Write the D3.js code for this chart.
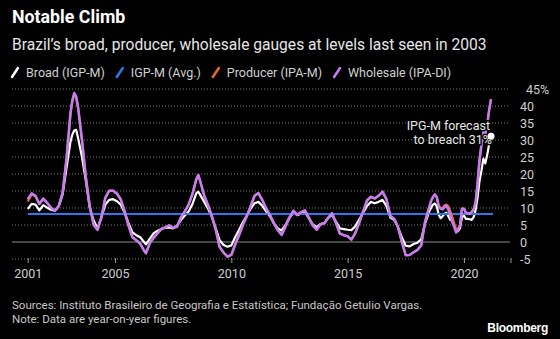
<!DOCTYPE html>
<html>
<head>
<meta charset="utf-8">
<script src="https://cdnjs.cloudflare.com/ajax/libs/d3/7.8.5/d3.min.js"></script>
<style>
body{margin:0;background:#000;}
svg{display:block;font-family:Roboto,"Noto Sans",sans-serif;}
</style>
</head>
<body>
<svg id="chart" width="560" height="339"></svg>
<script>
// monthly points (irregular spacing, denser where it moves fast)
var months = [
  "2001-04","2001-06","2001-08","2001-10","2001-12",
  "2002-02","2002-04","2002-06","2002-08","2002-10","2002-12",
  "2003-02","2003-03","2003-04","2003-05","2003-06","2003-08","2003-10","2003-12",
  "2004-02","2004-04","2004-06","2004-08","2004-10","2004-12",
  "2005-02","2005-04","2005-06","2005-08","2005-10","2005-12",
  "2006-02","2006-04","2006-05","2006-07","2006-09","2006-11",
  "2007-01","2007-03","2007-05","2007-07","2007-09","2007-11",
  "2008-01","2008-03","2008-05","2008-07","2008-08","2008-09","2008-11",
  "2009-01","2009-03","2009-05","2009-07","2009-09","2009-11",
  "2010-01","2010-03","2010-05","2010-07","2010-09","2010-11",
  "2011-01","2011-03","2011-05","2011-07","2011-09","2011-11",
  "2012-01","2012-03","2012-05","2012-07","2012-09","2012-11",
  "2013-01","2013-03","2013-05","2013-07","2013-09","2013-11",
  "2014-01","2014-03","2014-05","2014-07","2014-09","2014-11",
  "2015-01","2015-03","2015-05","2015-07","2015-09","2015-11",
  "2016-01","2016-03","2016-05","2016-07","2016-09","2016-11",
  "2017-01","2017-03","2017-05","2017-07","2017-09","2017-11",
  "2018-01","2018-03","2018-05","2018-07","2018-08","2018-09","2018-10","2018-11","2018-12",
  "2019-01","2019-02","2019-03","2019-04","2019-05","2019-06","2019-07","2019-08","2019-09","2019-10","2019-11","2019-12",
  "2020-01","2020-02","2020-03","2020-04","2020-05","2020-06","2020-07","2020-08","2020-09","2020-10","2020-11","2020-12",
  "2021-01","2021-02","2021-03"
];

// Broad (IGP-M)
var broad = [
  9.7, 11.2, 11.0, 9.3, 10.8,
  10.1, 9.5, 9.2, 10.5, 14.0, 21.8,
  29.5, 31.5, 32.8, 33.0, 30.5, 25.0, 18.0, 10.0,
  6.3, 4.0, 7.2, 11.0, 12.4, 12.6,
  12.0, 11.0, 8.6, 5.5, 2.8, 2.0,
  1.4, 0.0, -0.7, 1.0, 2.6, 3.3,
  3.8, 4.2, 4.3, 4.0, 4.8, 6.5,
  7.8, 9.0, 11.2, 14.4, 14.8, 13.8, 11.8,
  9.8, 7.4, 4.0, 0.5, -0.9, -1.4,
  -1.0, 1.4, 3.5, 5.8, 7.8, 9.8,
  11.4, 11.8, 10.7, 9.0, 7.5, 5.5,
  4.0, 3.4, 5.0, 7.1, 8.6, 7.9,
  8.4, 8.8, 7.0, 5.2, 4.4, 5.3,
  5.6, 7.1, 8.0, 6.0, 4.0, 3.8,
  3.6, 3.5, 4.6, 6.6, 8.6, 10.6,
  11.8, 11.4, 11.8, 12.4, 10.6, 7.2,
  6.5, 4.4, 1.4, -1.1, -1.3, -0.6,
  -0.2, 0.8, 5.5, 8.8, 10.0, 11.0, 11.3, 10.5, 8.0,
  7.0, 7.6, 8.3, 8.6, 7.6, 6.5, 6.4, 5.0, 3.4, 3.2, 4.1, 7.3,
  7.8, 6.8, 6.8, 6.7, 6.5, 7.3, 9.3, 13.0, 17.9, 20.9, 24.5, 23.1,
  25.7, 28.9, 31.1
];

// Producer (IPA-M)
var producer = [
  11.9, 14.0, 13.4, 11.2, 12.7,
  11.5, 10.1, 9.2, 10.6, 14.5, 24.5,
  37.5, 41.3, 43.5, 42.6, 39.5, 30.0, 19.0, 10.5,
  5.0, 3.6, 7.3, 13.0, 15.1, 15.1,
  14.2, 12.5, 9.0, 4.8, 1.4, 0.5,
  -0.5, -2.5, -3.3, -0.3, 1.3, 2.6,
  3.9, 4.3, 4.9, 4.2, 4.5, 7.2,
  9.0, 11.0, 14.2, 18.5, 19.7, 17.8, 13.6,
  10.8, 7.6, 3.6, -1.5, -3.1, -4.3,
  -3.8, -0.8, 2.0, 5.0, 7.6, 10.6,
  13.6, 14.4, 12.4, 9.9, 7.9, 5.4,
  3.5, 2.1, 4.6, 7.2, 9.2, 8.0,
  8.8, 9.3, 7.2, 4.9, 3.6, 5.2,
  5.5, 7.1, 8.5, 5.6, 2.5, 2.0,
  1.7, 0.7, 2.6, 5.6, 9.0, 12.2,
  13.3, 12.8, 13.6, 14.8, 12.6, 7.7,
  6.8, 4.4, 0.0, -3.9, -3.8, -3.0,
  -2.3, -1.0, 6.0, 10.0, 12.0, 13.2, 14.0, 13.2, 10.5,
  10.0, 10.0, 10.8, 11.0, 10.5, 9.0, 7.5, 5.5, 3.5, 3.8, 5.0, 9.8,
  9.8, 8.6, 8.5, 8.3, 8.8, 9.6, 11.5, 17.0, 24.0, 28.5, 32.5, 31.5,
  34.5, 39.0, 42.0
];

// Wholesale (IPA-DI)
var wholesale = [
  12.6, 14.3, 13.6, 11.2, 12.8,
  11.5, 10.1, 9.2, 10.6, 14.5, 24.5,
  38.0, 41.5, 43.8, 42.8, 39.5, 30.0, 19.0, 10.5,
  5.0, 3.6, 7.3, 13.0, 15.1, 15.1,
  14.2, 12.5, 9.0, 4.8, 1.4, 0.5,
  -0.5, -2.5, -3.3, -0.3, 1.3, 2.6,
  3.9, 4.3, 4.9, 4.2, 4.5, 7.2,
  9.0, 11.0, 14.2, 18.5, 19.7, 17.8, 13.6,
  10.8, 7.6, 3.6, -1.5, -3.1, -4.3,
  -3.8, -0.8, 2.0, 5.0, 7.6, 10.6,
  13.6, 14.4, 12.4, 9.9, 7.9, 5.4,
  3.5, 2.1, 4.6, 7.2, 9.2, 8.0,
  8.8, 9.3, 7.2, 4.9, 3.6, 5.2,
  5.5, 7.1, 8.5, 5.6, 2.5, 2.0,
  1.7, 0.7, 2.6, 5.6, 9.0, 12.2,
  13.3, 12.8, 13.6, 14.8, 12.6, 7.7,
  6.8, 4.4, 0.0, -3.9, -3.8, -3.0,
  -2.3, -1.0, 6.0, 10.0, 12.0, 13.2, 14.0, 13.2, 10.5,
  9.8, 9.6, 10.3, 10.6, 9.6, 7.6, 6.0, 4.4, 2.8, 3.5, 4.8, 9.8,
  9.8, 8.6, 8.5, 8.3, 8.8, 9.6, 11.5, 17.0, 24.0, 28.5, 32.5, 31.5,
  34.5, 39.0, 42.0
];

var igpmAvg = 8.2;          // IGP-M average over the period
var forecast = 31.1;        // last Broad point, marked with a dot

var yTicks = [-5, 0, 5, 10, 15, 20, 25, 30, 35, 40, 45];
var xTickYears = [2005, 2010, 2015, 2020];

var legendNames = ["Broad (IGP-M)", "IGP-M (Avg.)", "Producer (IPA-M)", "Wholesale (IPA-DI)"];
var colors = ["#ffffff", "#2a78f0", "#f26430", "#c57ef2"];

var parse = d3.timeParse("%Y-%m");
var dates = months.map(parse);

var svg = d3.select("#chart");

var x = d3.scaleTime()
    .domain([new Date(2001, 0, 1), new Date(2022, 0, 1)])
    .range([22, 510.5]);
var y = d3.scaleLinear().domain([-5, 45]).range([259, 89]);

// titles
svg.append("text").attr("x", 12).attr("y", 23)
    .attr("fill", "#fff").attr("font-weight", "bold").attr("font-size", 17.8)
    .text("Notable Climb");
svg.append("text").attr("x", 12).attr("y", 50)
    .attr("fill", "#e6e6e6").attr("font-size", 15.6)
    .text("Brazil\u2019s broad, producer, wholesale gauges at levels last seen in 2003");

// legend
var lx = 12;
legendNames.forEach(function(name, i) {
  svg.append("line")
      .attr("x1", lx).attr("y1", 77).attr("x2", lx + 6).attr("y2", 68)
      .attr("stroke", colors[i]).attr("stroke-width", 2.5).attr("stroke-linecap", "round");
  var t = svg.append("text").attr("x", lx + 14).attr("y", 77)
      .attr("fill", "#d0d0d0").attr("font-size", 12.5)
      .text(name);
  lx += 14 + t.node().getComputedTextLength() + 12;
});

// grid
var grid = svg.append("g");
grid.selectAll("line.g")
    .data(yTicks.filter(function(d) { return d !== 0; }))
  .enter().append("line")
    .attr("x1", 12).attr("x2", 510)
    .attr("y1", function(d) { return y(d); }).attr("y2", function(d) { return y(d); })
    .attr("stroke", "#7a7a7a").attr("stroke-width", 1).attr("stroke-dasharray", "1,2");
grid.append("line")
    .attr("x1", 12).attr("x2", 510).attr("y1", y(0)).attr("y2", y(0))
    .attr("stroke", "#8c8c8c").attr("stroke-width", 1);

// y axis on the right
var yAxis = svg.append("g")
    .attr("transform", "translate(520,0)")
    .call(d3.axisRight(y).tickValues(yTicks).tickSize(0).tickPadding(0)
      .tickFormat(function(d) { return d === 45 ? "45%" : d; }));
yAxis.select(".domain").remove();
yAxis.selectAll("text")
    .attr("fill", "#cfcfcf").attr("font-size", 12.5).attr("font-family", "Roboto,sans-serif")
    .attr("dx", function(d) { return d === 45 ? 6 : 0; });

// x axis
var xTicks = [dates[0]].concat(xTickYears.map(function(yr) { return new Date(yr, 0, 1); }));
var xAxis = svg.append("g")
    .attr("transform", "translate(0,258)")
    .call(d3.axisBottom(x).tickValues(xTicks.concat([new Date(2022, 0, 1)])).tickSize(5).tickPadding(6)
      .tickFormat(function(d) { return d.getFullYear() === 2022 ? "" : d.getFullYear(); }));
xAxis.select(".domain").remove();
xAxis.selectAll("line").attr("stroke", "#9a9a9a");
xAxis.selectAll("text")
    .attr("fill", "#cfcfcf").attr("font-size", 12.5).attr("font-family", "Roboto,sans-serif");

// series lines, in legend order
var line = d3.line()
    .x(function(d, i) { return x(dates[i]); })
    .y(function(d) { return y(d); });

svg.append("path").datum(broad)
    .attr("d", line).attr("fill", "none")
    .attr("stroke", colors[0]).attr("stroke-width", 2.2).attr("stroke-linejoin", "round");

svg.append("line")
    .attr("x1", x(dates[0])).attr("x2", x(dates[dates.length - 1]) + 2)
    .attr("y1", y(igpmAvg)).attr("y2", y(igpmAvg))
    .attr("stroke", colors[1]).attr("stroke-width", 2);

svg.append("path").datum(producer)
    .attr("d", line).attr("fill", "none")
    .attr("stroke", colors[2]).attr("stroke-width", 2.2).attr("stroke-linejoin", "round");

svg.append("path").datum(wholesale)
    .attr("d", line).attr("fill", "none")
    .attr("stroke", colors[3]).attr("stroke-width", 2.5).attr("stroke-linejoin", "round");

// forecast annotation
var ann = svg.append("text")
    .attr("text-anchor", "end").attr("fill", "#e8e8e8").attr("font-size", 12.5)
    .attr("stroke", "#000").attr("stroke-width", 3).attr("paint-order", "stroke");
ann.append("tspan").attr("x", 490).attr("y", 130).text("IPG-M forecast");
ann.append("tspan").attr("x", 492).attr("y", 144).text("to breach 31%");

svg.append("circle")
    .attr("cx", x(dates[dates.length - 1])).attr("cy", y(forecast)).attr("r", 3.5)
    .attr("fill", "#fff");

// footer
svg.append("text").attr("x", 12).attr("y", 309)
    .attr("fill", "#c8c8c8").attr("font-size", 11.5)
    .text("Sources: Instituto Brasileiro de Geografia e Estat\u00edstica; Funda\u00e7\u00e3o Getulio Vargas.");
svg.append("text").attr("x", 12).attr("y", 323)
    .attr("fill", "#c8c8c8").attr("font-size", 11.5)
    .text("Note: Data are year-on-year figures.");
svg.append("text").attr("x", 548).attr("y", 332).attr("text-anchor", "end")
    .attr("fill", "#fff").attr("font-weight", "bold").attr("font-size", 12)
    .attr("font-family", "Liberation Sans,Arial,sans-serif").attr("letter-spacing", -0.3)
    .text("Bloomberg");
</script>
</body>
</html>
